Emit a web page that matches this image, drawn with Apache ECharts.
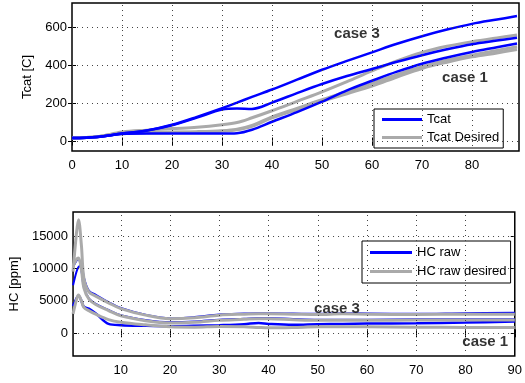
<!DOCTYPE html>
<html>
<head>
<meta charset="utf-8">
<script src="https://cdn.jsdelivr.net/npm/echarts@6/dist/echarts.min.js"></script>
<style>
  html, body { margin: 0; padding: 0; background: #fff; }
  #chart { width: 525px; height: 383px; }
</style>
</head>
<body>
<div id="chart"></div>
<script>
// Catalyst temperature, three test cases (time in s)
const tcatTime = [0, 5, 10, 15, 20, 25, 30, 33, 36, 40, 45, 50, 55, 60, 65, 70, 75, 80, 85, 89];
const tcatCase1 = [18, 24, 40, 42, 42, 42, 42, 44, 62, 104, 155, 210, 270, 320, 368, 410, 443, 472, 497, 517];
const tcatCase2 = [18, 24, 42, 58, 86, 126, 168, 174, 172, 205, 255, 303, 345, 382, 420, 455, 486, 513, 532, 547];
const tcatCase3 = [18, 24, 42, 58, 88, 130, 176, 205, 235, 274, 326, 378, 425, 470, 515, 555, 590, 620, 643, 661];
const tcatDesired1 = [18, 25, 42, 45, 48, 50, 54, 62, 80, 125, 168, 212, 252, 292, 340, 385, 418, 446, 467, 485];
const tcatDesired2 = [18, 25, 44, 47, 50, 52, 57, 65, 85, 130, 175, 220, 262, 306, 352, 394, 428, 455, 480, 499];
const tcatDesired3 = [18, 25, 50, 60, 68, 75, 88, 100, 125, 162, 212, 262, 316, 372, 425, 470, 502, 526, 546, 561];

// Raw hydrocarbon emissions, three test cases
const hcTime = [0.3, 1, 1.4, 2, 2.5, 3.5, 5, 7.5, 10, 15, 20, 25, 30, 35, 38, 40, 45, 50, 55, 60, 70, 80, 90];
const hcRaw1 = [4200, 5400, 5800, 5000, 4100, 3800, 3000, 1450, 1250, 1150, 1100, 1150, 1250, 1400, 1600, 1450, 1300, 1400, 1450, 1500, 1550, 1650, 1800];
const hcRaw2 = [10200, 11200, 11400, 9700, 7100, 5400, 4500, 3600, 2800, 2050, 1700, 1800, 2100, 2250, 2350, 2350, 2200, 2100, 2100, 2100, 2150, 2150, 2150];
const hcRaw3 = [7400, 9500, 10200, 10500, 8600, 6600, 5900, 4800, 3900, 2850, 2300, 2500, 2900, 3050, 3100, 3100, 3050, 3000, 3100, 3050, 3000, 3100, 3150];
const hcDesired1 = [3000, 5200, 5900, 5000, 4000, 3500, 2900, 2100, 1700, 1300, 1000, 950, 1050, 1000, 900, 850, 900, 1000, 1000, 1000, 950, 900, 900];
const hcDesired2 = [10400, 11400, 11600, 9800, 7000, 5300, 4400, 3500, 2700, 1950, 1600, 1700, 2000, 2150, 2250, 2250, 2100, 2000, 2000, 2000, 2050, 2050, 2050];
const hcDesired3 = [9500, 15500, 17500, 13500, 8500, 6400, 5700, 4700, 3800, 2800, 2250, 2400, 2800, 2950, 3000, 3000, 2950, 2900, 3000, 2950, 2900, 2950, 2950];

// Tick labels
const tcatXTicks = [0, 10, 20, 30, 40, 50, 60, 70, 80];
const tcatYTicks = [0, 200, 400, 600];
const hcXTicks = [10, 20, 30, 40, 50, 60, 70, 80, 90];
const hcYTicks = [0, 5000, 10000, 15000];

const BLUE = '#0000ff';
const GREY = '#aaaaaa';
const FONT = 'Liberation Sans, Arial, sans-serif';

const pairs = (xs, ys) => xs.map((x, i) => [x, ys[i]]);

const dotted = { color: '#444', width: 1, type: [1, 4] };

function xAxisDef(grid, min, max, ticks, showLabels, pos) {
  return {
    type: 'value', gridIndex: grid, min: min, max: max, position: pos,
    axisLine: { show: false },
    axisTick: { show: true, inside: true, length: 4, customValues: ticks, lineStyle: { color: '#000' } },
    axisLabel: {
      show: showLabels, customValues: ticks, color: '#000', fontSize: 13, fontFamily: FONT, margin: 8,
      formatter: v => String(v)
    },
    splitLine: { show: false }
  };
}
function yAxisDef(grid, min, max, ticks, showLabels, pos, name, gap) {
  return {
    type: 'value', gridIndex: grid, min: min, max: max, position: pos,
    name: name || '', nameLocation: 'middle', nameGap: gap || 0,
    nameTextStyle: { color: '#000', fontSize: 13, fontFamily: FONT },
    axisLine: { show: false },
    axisTick: { show: true, inside: true, length: 4, customValues: ticks, lineStyle: { color: '#000' } },
    axisLabel: {
      show: showLabels, customValues: ticks, color: '#000', fontSize: 13, fontFamily: FONT, margin: 5,
      formatter: v => String(v)
    },
    splitLine: { show: false }
  };
}

function lineSeries(name, x, y, color, width, xi, yi, z) {
  return {
    type: 'line', name: name, data: pairs(x, y), xAxisIndex: xi, yAxisIndex: yi,
    showSymbol: false, symbol: 'none', smooth: 0.35,
    lineStyle: { color: color, width: width }, itemStyle: { color: color },
    z: z, silent: true
  };
}

// dotted grid lines, drawn along the tick values
function gridLines(xi, yi, xs, ys) {
  return {
    type: 'line', data: [], xAxisIndex: xi, yAxisIndex: yi, silent: true, z: 1,
    markLine: {
      silent: true, symbol: 'none', label: { show: false }, animation: false,
      lineStyle: dotted,
      data: xs.map(v => ({ xAxis: v })).concat(ys.map(v => ({ yAxis: v })))
    }
  };
}

function caseLabel(text, x, y, xi, yi) {
  return {
    type: 'scatter', name: text, xAxisIndex: xi, yAxisIndex: yi, silent: true, z: 20,
    symbolSize: 1, itemStyle: { color: 'rgba(0,0,0,0)' },
    data: [[x, y]],
    label: {
      show: true, position: 'inside', formatter: text,
      color: '#000', fontSize: 15, fontWeight: 'bold', fontFamily: FONT
    }
  };
}

const chart = echarts.init(document.getElementById('chart'), null, { renderer: 'canvas' });

chart.setOption({
  animation: false,
  backgroundColor: '#fff',
  grid: [
    { left: 72, top: 3, width: 447, height: 148, show: true, borderColor: '#000', borderWidth: 1.5, backgroundColor: '#fff' },
    { left: 72, top: 212, width: 447, height: 144, show: true, borderColor: '#000', borderWidth: 1.5, backgroundColor: '#fff' }
  ],
  xAxis: [
    xAxisDef(0, 0, 89.4, tcatXTicks, true, 'bottom'),
    xAxisDef(0, 0, 89.4, tcatXTicks, false, 'top'),
    xAxisDef(1, 0.3, 90, hcXTicks, true, 'bottom'),
    xAxisDef(1, 0.3, 90, hcXTicks, false, 'top')
  ],
  yAxis: [
    yAxisDef(0, -50, 730, tcatYTicks, true, 'left', 'Tcat [C]', 32),
    yAxisDef(0, -50, 730, tcatYTicks, false, 'right'),
    yAxisDef(1, -3500, 18700, hcYTicks, true, 'left', 'HC [ppm]', 47),
    yAxisDef(1, -3500, 18700, hcYTicks, false, 'right')
  ],
  legend: [
    {
      data: ['Tcat', 'Tcat Desired'], orient: 'vertical', left: 374, top: 109,
      backgroundColor: '#fff', borderColor: '#000', borderWidth: 1,
      padding: [3, 4, 3, 8], itemGap: 3, itemWidth: 40, itemHeight: 3, icon: 'rect',
      textStyle: { color: '#000', fontSize: 13, fontFamily: FONT, lineHeight: 15 }
    },
    {
      data: ['HC raw', 'HC raw desired'], orient: 'vertical', left: 362, top: 241,
      backgroundColor: '#fff', borderColor: '#000', borderWidth: 1,
      padding: [4, 4, 4, 8], itemGap: 4, itemWidth: 42, itemHeight: 3, icon: 'rect',
      textStyle: { color: '#000', fontSize: 13, fontFamily: FONT, lineHeight: 15 }
    }
  ],
  series: [
    gridLines(0, 0, tcatXTicks.slice(1), tcatYTicks),
    gridLines(2, 2, hcXTicks.slice(0, -1), hcYTicks),

    lineSeries('Tcat Desired', tcatTime, tcatDesired1, GREY, 3, 0, 0, 3),
    lineSeries('Tcat Desired', tcatTime, tcatDesired2, GREY, 3, 0, 0, 3),
    lineSeries('Tcat Desired', tcatTime, tcatDesired3, GREY, 3, 0, 0, 3),
    lineSeries('Tcat', tcatTime, tcatCase1, BLUE, 2.5, 0, 0, 4),
    lineSeries('Tcat', tcatTime, tcatCase2, BLUE, 2.5, 0, 0, 4),
    lineSeries('Tcat', tcatTime, tcatCase3, BLUE, 2.5, 0, 0, 4),

    lineSeries('HC raw', hcTime, hcRaw1, BLUE, 2.5, 2, 2, 3),
    lineSeries('HC raw', hcTime, hcRaw2, BLUE, 2, 2, 2, 3),
    lineSeries('HC raw', hcTime, hcRaw3, BLUE, 2, 2, 2, 3),
    lineSeries('HC raw desired', hcTime, hcDesired1, GREY, 3, 2, 2, 4),
    lineSeries('HC raw desired', hcTime, hcDesired2, GREY, 3, 2, 2, 4),
    lineSeries('HC raw desired', hcTime, hcDesired3, GREY, 3, 2, 2, 4),

    caseLabel('case 3', 57, 566, 0, 0),
    caseLabel('case 1', 78.6, 337, 0, 0),
    caseLabel('case 3', 53.9, 3715, 2, 2),
    caseLabel('case 1', 84, -1390, 2, 2)
  ]
});
</script>
</body>
</html>
